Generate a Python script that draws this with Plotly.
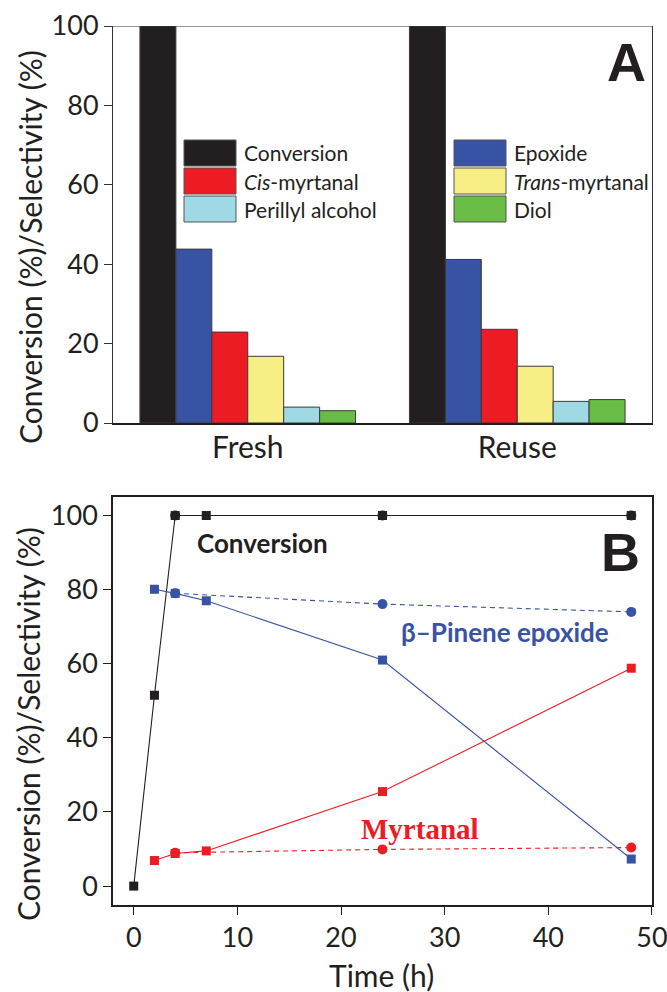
import plotly.graph_objects as go

# ---- Panel A: catalyst performance, fresh vs. reused ----
groups = ["Fresh", "Reuse"]
conversion = [100, 100]
epoxide = [43.8, 41.2]
cis_myrtanal = [22.9, 23.6]
trans_myrtanal = [16.8, 14.3]
perillyl_alcohol = [4.0, 5.45]
diol = [3.1, 5.9]

bar_names = ["Conversion", "Epoxide", "<i>Cis</i>-myrtanal", "<i>Trans</i>-myrtanal",
             "Perillyl alcohol", "Diol"]
bar_values = [conversion, epoxide, cis_myrtanal, trans_myrtanal, perillyl_alcohol, diol]
bar_colors = ["#231f20", "#3953a4", "#ed1c24", "#f8ee86", "#9fd9e4", "#69bd45"]

# legend layout: two columns of three entries
legend_left = [0, 2, 4]
legend_right = [1, 3, 5]

# ---- Panel B: time course ----
time_run1 = [0, 2, 4, 7, 24, 48]
conv_run1 = [0, 51.5, 100, 100, 100, 100]
time_sel_run1 = [2, 4, 7, 24, 48]
epox_run1 = [80.1, 79.0, 77.0, 61.0, 7.3]
myrt_run1 = [6.9, 8.8, 9.5, 25.5, 58.8]

time_run2 = [4, 24, 48]
conv_run2 = [100, 100, 100]
epox_run2 = [79.0, 76.1, 74.0]
myrt_run2 = [9.0, 9.9, 10.4]

BLACK = "#231f20"
BLUE = "#3953a4"
RED = "#ed1c24"

W, H = 667, 992
FONT = "Lato"


def px(x):
    return x / W


def py(y):
    return (H - y) / H


fig = go.Figure()

for name, vals, col in zip(bar_names, bar_values, bar_colors):
    fig.add_trace(go.Bar(
        x=groups, y=vals, name=name, marker_color=col,
        marker_line=dict(color="#3a3a3a", width=1),
        xaxis="x", yaxis="y", showlegend=False,
    ))

# solid lines with squares
for t, v, col in [(time_run1, conv_run1, BLACK),
                  (time_sel_run1, epox_run1, BLUE),
                  (time_sel_run1, myrt_run1, RED)]:
    fig.add_trace(go.Scatter(
        x=t, y=v, mode="lines+markers", xaxis="x2", yaxis="y2",
        line=dict(color=col, width=1.1),
        marker=dict(symbol="square", size=9, color=col),
        showlegend=False,
    ))

# dashed lines with circles
for t, v, col in [(time_run2, conv_run2, BLACK),
                  (time_run2, epox_run2, BLUE),
                  (time_run2, myrt_run2, RED)]:
    fig.add_trace(go.Scatter(
        x=t, y=v, mode="lines+markers", xaxis="x2", yaxis="y2",
        line=dict(color=col, width=1.1, dash="5px,4px"),
        marker=dict(symbol="circle", size=10, color=col),
        showlegend=False,
    ))

xdom = [px(113), px(652)]
tick_font = dict(family=FONT, size=27, color=BLACK)

fig.update_layout(
    width=W, height=H,
    margin=dict(l=0, r=0, t=0, b=0),
    paper_bgcolor="white", plot_bgcolor="white",
    barmode="group", bargap=0.2, bargroupgap=0,
    xaxis=dict(domain=xdom, anchor="y", type="category", range=[-0.5, 1.5],
               showline=True, linewidth=2, linecolor=BLACK, ticks="",
               tickfont=dict(family=FONT, size=30, color=BLACK),
               ticklabelstandoff=-3, showgrid=False, zeroline=False,
               automargin=False),
    yaxis=dict(domain=[py(423), py(26)], anchor="x", range=[0, 100],
               tickvals=[0, 20, 40, 60, 80, 100], ticks="outside", ticklen=8,
               tickwidth=1, tickcolor="#333333", showline=True, linewidth=1,
               linecolor="#333333", mirror=True, tickfont=tick_font,
               showgrid=False, zeroline=False, automargin=False),
    xaxis2=dict(domain=xdom, anchor="y2", range=[-2, 50.001],
                tickvals=[0, 10, 20, 30, 40, 50], ticks="outside", ticklen=8,
                tickwidth=1.2, tickcolor=BLACK, showline=True, linewidth=1.5,
                linecolor=BLACK, mirror=True, tickfont=tick_font,
                ticklabeloverflow="allow",
                showgrid=False, zeroline=False, automargin=False),
    yaxis2=dict(domain=[py(905), py(497)], anchor="x2", range=[-5.1, 105],
                tickvals=[0, 20, 40, 60, 80, 100], ticks="outside", ticklen=8,
                tickwidth=1.2, tickcolor=BLACK, showline=True, linewidth=1.5,
                linecolor=BLACK, mirror=True, tickfont=tick_font,
                showgrid=False, zeroline=False, automargin=False),
)

shapes = [
    # thin top border of panel A
    dict(type="line", xref="x domain", yref="y", x0=0, x1=1, y0=100, y1=100,
         line=dict(color="#333333", width=1)),
]
annotations = []

# panel A legend boxes
for entries, box_x0, text_x in [(legend_left, 184, 242), (legend_right, 454, 512)]:
    for row, k in enumerate(entries):
        y0 = 140 + row * 28
        shapes.append(dict(type="rect", xref="paper", yref="paper",
                           x0=px(box_x0), x1=px(box_x0 + 52),
                           y0=py(y0 + 26), y1=py(y0),
                           fillcolor=bar_colors[k],
                           line=dict(color="#555555", width=1)))
        annotations.append(dict(xref="paper", yref="paper", x=px(text_x),
                                y=py(y0 + 13), xanchor="left", yanchor="middle",
                                text=bar_names[k], showarrow=False,
                                font=dict(family=FONT, size=21, color=BLACK)))

title_text = "Conversion (%)/Selectivity (%)"
annotations += [
    dict(xref="paper", yref="paper", x=px(30), y=py(247), text=title_text,
         textangle=-90, showarrow=False, xanchor="center", yanchor="middle",
         font=dict(family=FONT, size=30, color=BLACK)),
    dict(xref="paper", yref="paper", x=px(28), y=py(724), text=title_text,
         textangle=-90, showarrow=False, xanchor="center", yanchor="middle",
         font=dict(family=FONT, size=30, color=BLACK)),
    dict(xref="paper", yref="paper", x=px(381), y=py(975), text="Time (h)",
         showarrow=False, xanchor="center", yanchor="middle",
         font=dict(family=FONT, size=30, color=BLACK)),
    dict(xref="paper", yref="paper", x=px(626), y=py(62), text="<b>A</b>",
         showarrow=False, xanchor="center", yanchor="middle",
         font=dict(family="Liberation Sans", size=54, color=BLACK)),
    dict(xref="paper", yref="paper", x=px(620), y=py(552), text="<b>B</b>",
         showarrow=False, xanchor="center", yanchor="middle",
         font=dict(family="Liberation Sans", size=54, color=BLACK)),
    dict(xref="paper", yref="paper", x=px(262), y=py(543), text="<b>Conversion</b>",
         showarrow=False, xanchor="center", yanchor="middle",
         font=dict(family=FONT, size=26, color=BLACK)),
    dict(xref="paper", yref="paper", x=px(505), y=py(632),
         text="<b>\u03b2\u2013Pinene epoxide</b>",
         showarrow=False, xanchor="center", yanchor="middle",
         font=dict(family=FONT, size=26, color=BLUE)),
    dict(xref="paper", yref="paper", x=px(420), y=py(829), text="<b>Myrtanal</b>",
         showarrow=False, xanchor="center", yanchor="middle",
         font=dict(family="Liberation Serif", size=29, color=RED)),
]

fig.update_layout(shapes=shapes, annotations=annotations)
fig.write_html("out.html")
